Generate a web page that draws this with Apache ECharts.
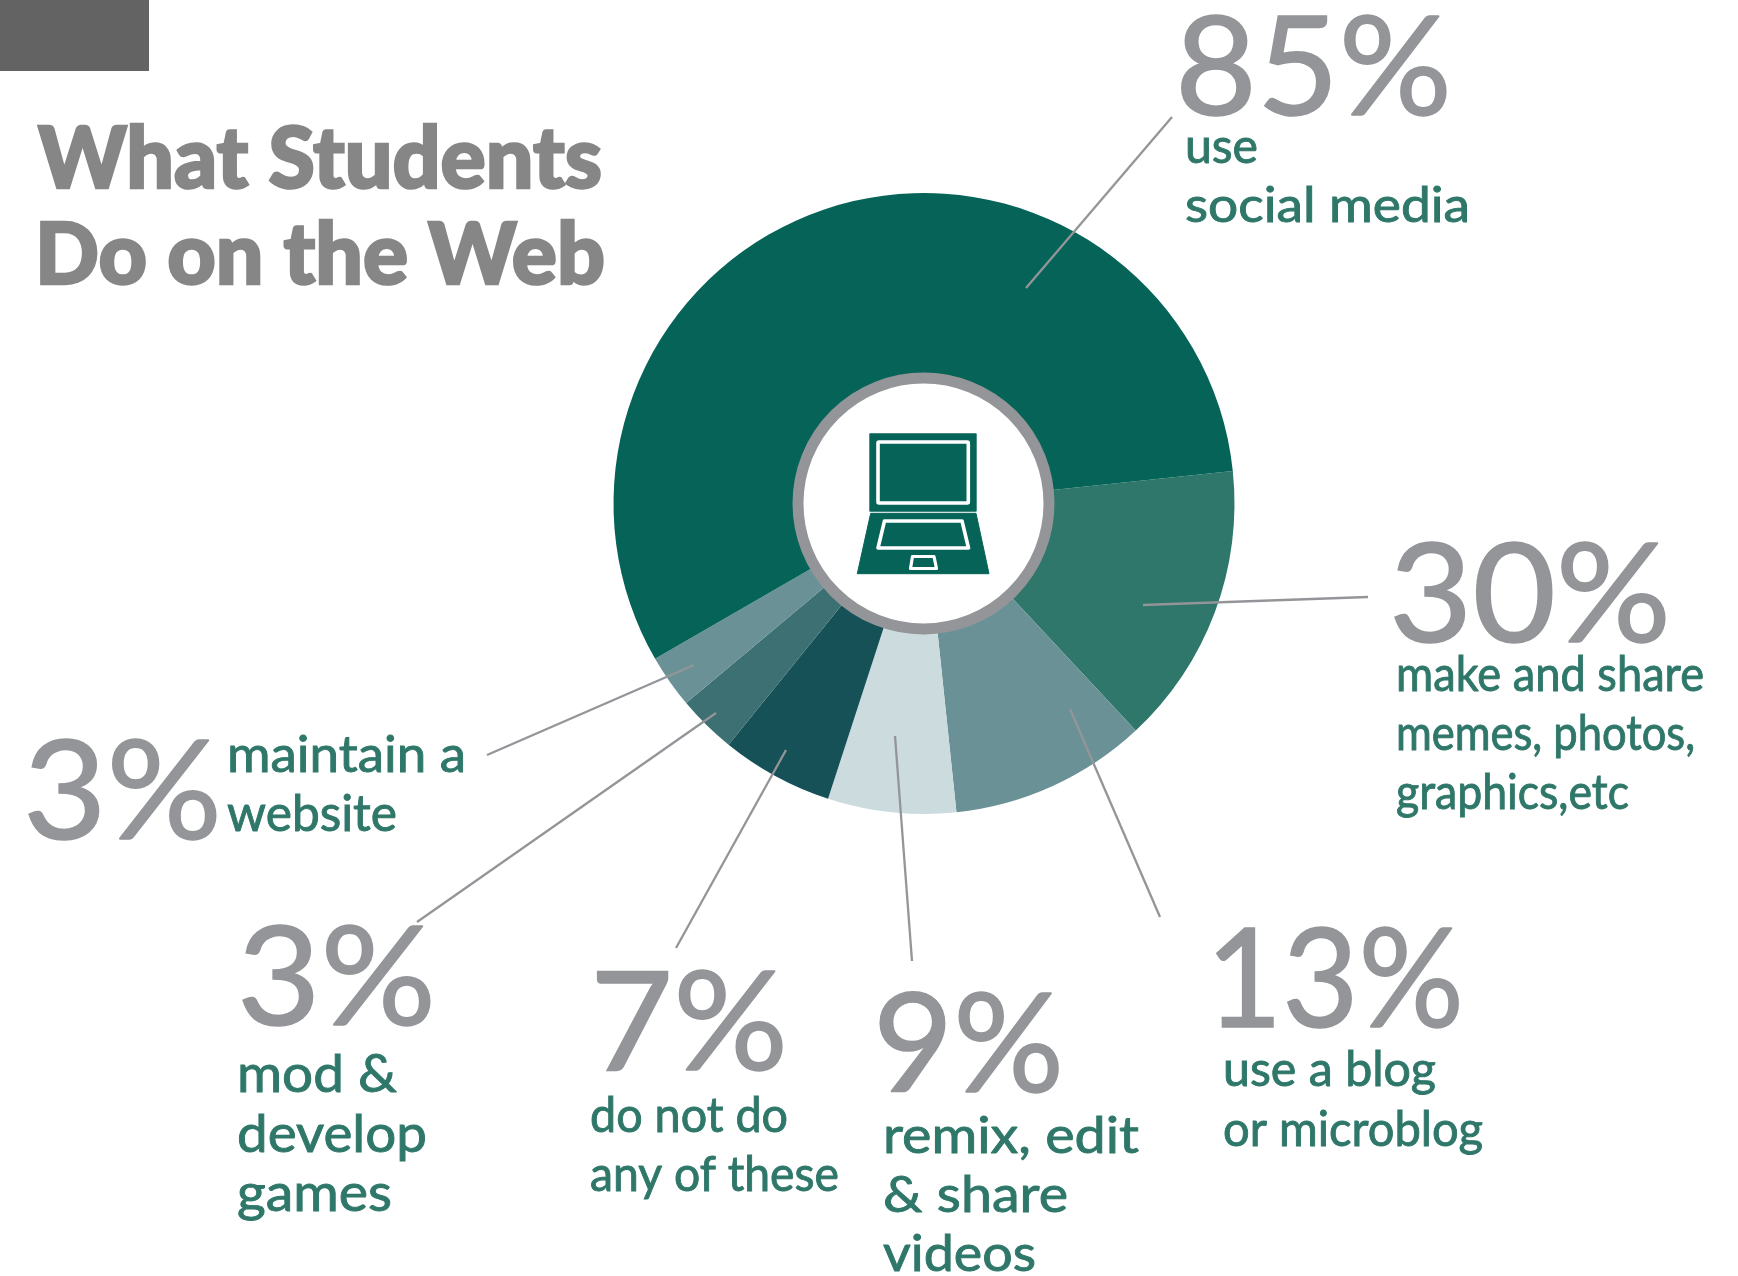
<!DOCTYPE html>
<html><head><meta charset="utf-8">
<style>html,body{margin:0;padding:0;background:#fff}#c{width:1738px;height:1276px}</style>
<script src="https://cdn.jsdelivr.net/npm/echarts@6/dist/echarts.min.js"></script>
</head><body><div id="c"></div>
<script>
// Slice sizes as drawn (degrees of arc; the printed percentages are multi-response and do not sum to 100)
const categories = ['make and share memes, photos, graphics,etc','use a blog or microblog','remix, edit & share videos','do not do any of these','mod & develop games','maintain a website','use social media'];
const sliceArc = [53, 37, 24, 21, 11, 10, 204];
const sliceColors = ['#2e776a','#6a9296','#cbdbde','#165158','#3d7073','#6a9296','#066358'];
const percentLabels = ['30%','13%','9%','7%','3%','3%','85%'];
const descLines = [
  ['make and share','memes, photos,','graphics,etc'],
  ['use a blog','or microblog'],
  ['remix, edit','& share','videos'],
  ['do not do','any of these'],
  ['mod &','develop','games'],
  ['maintain a','website'],
  ['use','social media']
];
const titleLines = ['What Students','Do on the Web'];

// Annotation layout (full-size px): [numX, numBase, textX, firstTextBase, linePitch, textSize]
const annoLayout = [
  [1389, 641, 1396, 691, 59, 48],
  [1206, 1026, 1223, 1086, 59.5, 48],
  [873, 1091, 883, 1153, 59, 51],
  [590, 1069, 590, 1132, 59, 48],
  [237, 1024, 237, 1092, 59.5, 52],
  [23, 838, 227, 772, 59, 50],
  [1175, 114, 1185, 163, 58.5, 48]
];
// Ink widths to fit (full-size px)
const numWidths = [282, 258, 191, 198, 199, 199, 277];
const descWidths = [
  [308, 299, 233],
  [213, 260],
  [256, 185, 153],
  [198, 249],
  [160, 190, 155],
  [239, 170],
  [73, 285]
];
const titleWidths = [564, 570];
// Leader lines (full-size px)
const leaders = [
  [[1368,597],[1143,605]],
  [[1160,917],[1070,709]],
  [[912,961],[895,736]],
  [[676,948],[786,750]],
  [[417,922],[716,713]],
  [[487,755],[694,665]],
  [[1172,117],[1026,288]]
];
const NUM_SIZE = 138, TITLE_SIZE = 85;
const CX = 924, CY = 503.5;
const GREEN = '#066358', GRAY = '#939598', TXT = '#2e7769', TITLE = '#868686';

const mc = document.createElement('canvas').getContext('2d');
const g = [];
function txt(str, x, base, size, color, weight, target, bold){
  const font = weight+' '+size+'px Lato, sans-serif';
  mc.font = font;
  const sx = target / mc.measureText(str).width;
  g.push({type:'text', x:x, y:base - size*0.315, scaleX:sx, z:20,
    style:{text:str, fill:color, stroke:color, lineWidth:bold, font:font, align:'left', verticalAlign:'middle'}});
}
g.push({type:'rect', shape:{x:0,y:0,width:149,height:71}, z:5, style:{fill:'#636363'}});
txt(titleLines[0], 38, 187.5, TITLE_SIZE, TITLE, 900, titleWidths[0], 2.5);
txt(titleLines[1], 35, 283.5, TITLE_SIZE, TITLE, 900, titleWidths[1], 2.5);

percentLabels.forEach((p,i)=>{
  const a = annoLayout[i];
  txt(p, a[0], a[1], NUM_SIZE, GRAY, 400, numWidths[i], 1.6);
  descLines[i].forEach((l,j)=> txt(l, a[2], a[3]+j*a[4], a[5], TXT, 400, descWidths[i][j], 0.9));
});
leaders.forEach(l=>g.push({type:'line', z:15, shape:{x1:l[0][0],y1:l[0][1],x2:l[1][0],y2:l[1][1]}, style:{stroke:GRAY,lineWidth:2.3}}));

// Centre disc and laptop icon
g.push({type:'circle', z:10, shape:{cx:923.5,cy:CY,r:125.5}, style:{fill:'#fff',stroke:GRAY,lineWidth:11}});
g.push({type:'rect', z:11, shape:{x:869.3,y:433.3,width:107.4,height:78.4,r:1}, style:{fill:GREEN}});
g.push({type:'rect', z:12, shape:{x:878,y:442,width:90.3,height:61,r:1}, style:{fill:GREEN,stroke:'#fff',lineWidth:3.6}});
g.push({type:'polygon', z:11, shape:{points:[[870.7,513.3],[976,513.3],[989,573.7],[857.3,573.7]]}, style:{fill:GREEN,stroke:GREEN,lineWidth:1,lineJoin:'round'}});
g.push({type:'polygon', z:12, shape:{points:[[884.5,521],[962,521],[968.5,548],[878,548]]}, style:{fill:GREEN,stroke:'#fff',lineWidth:3.6,lineJoin:'round'}});
g.push({type:'polygon', z:12, shape:{points:[[912.5,556.5],[934,556.5],[936.5,568.5],[910.5,568.5]]}, style:{fill:GREEN,stroke:'#fff',lineWidth:3.2,lineJoin:'round'}});

const chart = echarts.init(document.getElementById('c'), null, {renderer:'canvas'});
chart.setOption({
  animation:false,
  backgroundColor:'#fff',
  tooltip:{show:false},
  series:[{
    type:'pie', center:[CX,CY], radius:[120,310.5], startAngle:6, clockwise:true, silent:true,
    label:{show:false}, labelLine:{show:false},
    data: categories.map((c,i)=>({name:c, value:sliceArc[i], itemStyle:{color:sliceColors[i]}}))
  }],
  graphic:{elements:g}
});
</script></body></html>
